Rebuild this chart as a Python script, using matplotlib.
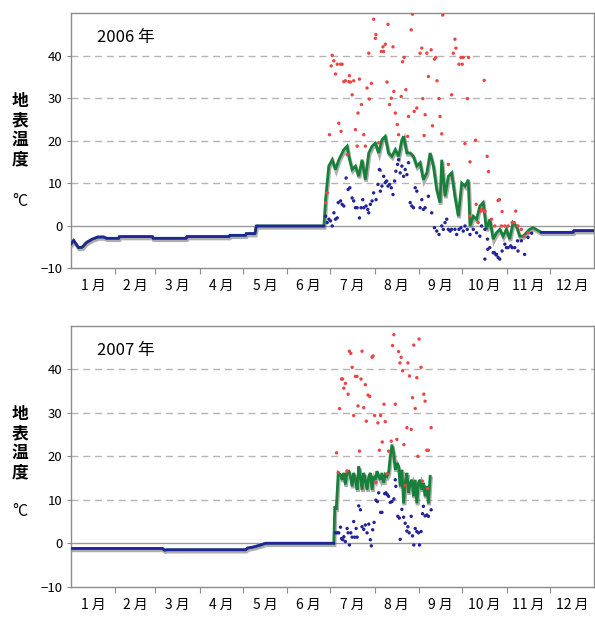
import numpy as np
import matplotlib
matplotlib.use("Agg")
from matplotlib import pyplot as plt
import matplotlib.patheffects as pe

plt.rcParams['font.family'] = ['Noto Sans CJK JP', 'DejaVu Sans']

# ---- data (day of year, degrees C) ----
month_edges = [31, 59, 90, 120, 151, 181, 212, 243, 273, 304, 334]
month_mid = [15.5, 45, 74.5, 105, 135.5, 166, 196.5, 227.5, 258, 288.5, 319, 349.5]
month_labels = ['1 月', '2 月', '3 月', '4 月', '5 月', '6 月',
                '7 月', '8 月', '9 月', '10 月', '11 月', '12 月']
ytick_vals = [-10, 0, 10, 20, 30, 40]
ytick_labels = ['−10', '0', '10', '20', '30', '40']

# 2006: flat (frozen) parts, where mean = min
winter06_day = [0, 2, 5.5, 8, 11, 15, 19, 23, 25, 33.5, 34, 57, 57.5, 80.5, 81, 110.5,
                111, 122, 122.5, 128.5, 129.5, 176.6]
winter06_val = [-4.4, -3.5, -5.2, -5.1, -4.0, -3.2, -2.7, -2.7, -3.0, -3.0, -2.6, -2.6,
                -3.0, -3.0, -2.6, -2.6, -2.3, -2.3, -1.9, -1.9, -0.1, -0.1]
late06_day = [328.2, 350.5, 351, 365]
late06_val = [-1.6, -1.6, -1.2, -1.2]

# 2006: daily mean in the thawed season
mean06_day = [177.8, 180, 182.4, 184.7, 187, 190.5, 192.8, 194, 196.3, 198.6, 200.9,
              203.2, 205.5, 207.9, 210.2, 212.5, 214.8, 217.1, 219.4, 221.7, 224,
              226.4, 228.7, 231, 232.2, 234.5, 236.8, 239.1, 241.4, 243.7, 246,
              248.4, 250.7, 253, 255.3, 257.6, 258.8, 261.1, 263.4, 265.7, 268,
              270.4, 272.7, 275, 277.3, 278.5, 280.8, 283.1, 285.4, 287.7, 290,
              292.3, 294.7, 297, 299.3, 301.6, 303.9, 306.2, 308.5, 310.9, 313.2,
              315.5, 317.8, 320.1, 322.4, 324.7]
mean06_val = [6.2, 14.0, 15.5, 13.2, 15.5, 17.9, 18.7, 16.3, 13.2, 14.0, 11.6,
              15.5, 10.8, 17.1, 18.7, 19.4, 17.1, 20.2, 21.0, 17.1, 16.3,
              17.9, 16.3, 20.2, 21.0, 17.1, 17.1, 16.3, 14.0, 14.8, 10.8,
              12.4, 17.1, 14.0, 8.5, 5.4, 15.5, 6.9, 11.6, 12.4, 6.9,
              2.2, 10.0, 9.3, 10.8, -0.1, 2.2, 1.5, 4.6, 5.4, -0.9,
              1.5, -3.2, -1.7, -0.9, -2.5, -0.9, -3.2, 0.7, -0.1, -2.5,
              -2.5, -1.7, -0.9, -0.5, -0.9]

# 2006: daily maximum
max06_day = [177.8, 178.9, 180.5, 181.7, 182.4, 183.5, 184.7, 185.9, 187, 188.2, 189.3,
             188.6, 190.5, 191.6, 192.8, 194, 194.4, 195.1, 196.3, 197.4, 198.6, 199.8,
             200.4, 201.4, 202.8, 204.4, 205.5, 206.7, 207.9, 208.3, 209.7, 211.3, 212.5,
             212.9, 214.8, 216, 216.7, 217.8, 218.3, 219.4, 220.6, 221.3, 222.4, 223.6,
             224.8, 225.4, 226.4, 227.8, 228.7, 230.5, 231.5, 232.6, 233.8, 235, 235.6,
             237.5, 238.4, 239.6, 241.4, 243.7, 244.9, 245.6, 246.5, 247.2, 248.4, 249.5,
             251.4, 252.3, 253.7, 254.6, 255.5, 256.9, 257.6, 258.8, 259.5, 263.4, 265.7,
             266.9, 268, 268.7, 270.8, 272.2, 273.8, 273.1, 276.8, 277.5, 275, 278.5,
             282.4, 288.4, 290.5, 291.4, 298.1, 299, 278.3, 284.2, 286.6, 288.9, 293.5,
             295.8, 300.4, 302.8, 305.1, 307.9, 310.4, 312, 314.3, 316.6, 319, 282.8,
             286.3, 288.6, 300.9, 309.4]
max06_val = [5.4, 7.7, 21.4, 37.6, 40.1, 38.8, 35.7, 38.0, 24.1, 38.0, 38.0,
             22.2, 33.9, 34.1, 16.7, 33.9, 35.3, 33.8, 30.8, 34.1, 22.6, 18.7,
             26.5, 34.5, 28.5, 21.4, 18.7, 32.4, 40.6, 29.8, 33.5, 48.6, 44.1,
             45.0, 19.5, 13.0, 41.0, 42.1, 41.0, 42.7, 33.8, 47.4, 28.5, 30.0,
             42.1, 31.6, 26.5, 23.8, 21.4, 30.4, 38.6, 39.6, 32.0, 21.0, 25.7,
             46.1, 49.8, 26.9, 27.7, 40.6, 41.8, 29.9, 21.2, 26.1, 40.6, 35.1,
             41.4, 23.5, 39.2, 39.6, 34.1, 29.9, 25.7, 21.6, 49.6, 14.4, 30.8,
             40.6, 43.9, 41.8, 38.0, 39.6, 39.6, 38.0, 29.9, 39.6, 19.3, 15.0,
             20.1, 34.2, 16.3, 12.7, 5.9, 6.1, 2.2, 0.7, 3.8, 3.4, 1.5,
             -0.1, -0.1, -0.1, -0.1, 0.7, 3.4, -0.1, -0.9, -2.5, -1.7, 5.0,
             3.4, 3.4, 3.3, 0.7]

# 2006: daily minimum
min06_day = [177.8, 178.9, 180.1, 181.2, 182.4, 183.6, 184.7, 185.9, 186.6, 188.2, 189.3,
             190.5, 192.1, 193.5, 194.7, 196.3, 197.4, 198.6, 199.8, 201.4, 202.5, 203.7,
             204.4, 206, 207.2, 207.9, 209, 210.2, 211.3, 213, 214.3, 215.3, 216, 217.1,
             218.3, 219.4, 220.4, 221.3, 222.4, 223.6, 224.8, 225.9, 226.8, 228, 228.7,
             229.8, 231, 232.2, 233.3, 234.5, 235.6, 236.8, 237.9, 239.1, 240.3, 241.4,
             243.7, 244.9, 246, 247.2, 249.5, 251.8, 253.7, 255.3, 256.9, 258.8, 259.9,
             261.1, 262.3, 263.4, 264.6, 265.7, 268, 269.2, 270.8, 272.2, 273.8, 275,
             276.6, 278.5, 280.8, 283.1, 285.4, 286.6, 288.9, 288.9, 290.7, 292.3, 294.7,
             297, 298.1, 299.3, 300.9, 302.8, 303.9, 305.1, 306.9, 307.9, 309.7, 312,
             314.3, 316.6, 319, 290.9, 295.5, 296.6, 311.7, 321.5]
min06_val = [2.2, 0.7, 1.5, 1.1, -0.1, 3.0, 1.5, 1.8, 5.4, 5.8, 5.0,
             4.6, 11.2, 8.5, 8.9, 6.5, 5.8, 4.2, 4.2, 1.8, 4.2, 6.1,
             4.2, 4.6, 3.8, 3.0, 5.0, 5.8, 7.7, 6.1, 9.7, 13.2, 8.1, 9.3,
             11.6, 10.1, 10.5, 9.3, 9.7, 8.9, 7.3, 10.5, 12.8, 14.4, 15.5,
             12.4, 14.0, 11.6, 13.2, 12.0, 14.8, 5.4, 4.6, 4.2, 8.9, 8.1,
             4.2, 6.1, 3.8, 4.2, 6.9, 3.0, -0.5, -1.3, -2.1, -0.1, -0.9,
             0.7, 1.5, -0.9, -1.3, -0.9, -0.9, -2.1, -0.9, -0.5, -1.3, -0.1,
             -0.9, -2.1, -0.9, -1.7, -2.5, -0.1, -0.9, -7.9, -3.2, -5.2, -6.4,
             -6.8, -7.5, -7.9, -6.0, -4.4, -5.2, -5.2, -4.8, -5.2, -5.2, -6.0,
             -3.6, -6.8, -2.8, -5.6, -6.4, -6.9, -3.6, -1.8]

# 2007: flat part before thaw
winter07_day = [0, 64, 65.5, 67, 122, 123.5, 127, 131.5, 136, 183.5]
winter07_val = [-1.2, -1.2, -1.6, -1.5, -1.5, -1.1, -0.9, -0.5, 0.0, 0.0]

# 2007: daily mean
mean07_day = [184.2, 185.2, 186.6, 188.2, 189.3, 190.5, 191.6, 192.8, 194, 195.1, 196.3,
              197.4, 198.6, 199.8, 200.9, 202.1, 203.2, 204.4, 205.5, 206.7, 207.9,
              209, 210.2, 211.3, 212.5, 213.6, 214.8, 216, 217.1, 218.3, 219.4,
              220.6, 221.7, 222.9, 224.1, 225.2, 226.4, 227.5, 228.7, 229.8, 231,
              232.2, 233.3, 234.5, 235.6, 236.8, 238, 239.1, 240.3, 241.4, 242.6,
              243.7, 244.9, 246, 247.2, 248.4, 249.5, 250.7]
mean07_val = [8.5, 7.7, 16.2, 15.8, 14.6, 16.2, 13.5, 16.6, 16.6, 15.4, 13.1,
              16.2, 14.6, 12.3, 17.7, 15.4, 12.3, 16.2, 14.6, 12.3, 15.4,
              16.2, 12.3, 15.4, 14.6, 16.6, 15.4, 14.6, 16.2, 13.9, 15.8,
              15.4, 16.2, 20.0, 22.7, 20.8, 16.9, 18.5, 17.7, 13.1, 16.9,
              9.2, 13.9, 16.2, 11.6, 13.9, 14.6, 10.8, 14.6, 9.2, 13.9,
              14.6, 12.3, 13.9, 10.8, 13.1, 9.2, 15.4]

# 2007: daily maximum
max07_day = [185.4, 186.6, 187.5, 188.9, 189.7, 190.5, 191.6, 193.5, 192.8, 194.4, 195.4,
             196.3, 197.4, 198.6, 199.7, 200.4, 201.4, 202.5, 203.2, 204.4, 205.5, 206.2,
             207.4, 208.5, 210.2, 210.9, 212, 212.9, 214.3, 215.3, 216.2, 217.3, 218.5,
             219.4, 220.6, 221.7, 223.6, 224.5, 225.4, 226.4, 227.5, 228.7, 229.6, 230.5,
             231.5, 232.4, 233.3, 234.5, 235.2, 236.3, 237.5, 238.4, 239.3, 240.3, 241.4,
             242.1, 243, 244.4, 245.4, 246.3, 247.2, 248.4, 249.5, 249, 251.4]
max07_val = [20.8, 16.3, 31.0, 37.8, 37.8, 35.7, 36.8, 34.3, 16.6, 44.2, 43.7,
             40.5, 29.4, 38.4, 38.4, 31.6, 21.2, 37.8, 44.2, 31.2, 36.5, 28.1,
             34.1, 33.8, 42.8, 43.1, 29.4, 14.0, 27.7, 21.4, 29.4, 23.3, 32.0,
             28.0, 16.0, 21.2, 23.5, 45.5, 48.0, 32.0, 23.9, 44.1, 41.5, 42.8,
             39.7, 22.7, 13.3, 26.6, 41.5, 38.5, 26.2, 33.5, 45.6, 31.0, 38.1,
             20.0, 47.0, 40.5, 14.3, 34.3, 32.7, 21.4, 21.4, 12.6, 26.6]

# 2007: daily minimum
min07_day = [184.7, 185.9, 187, 188.2, 188.9, 189.8, 190.5, 191.6, 192.8, 193.5, 194.4,
             195.4, 196.3, 197.4, 198.1, 199.1, 199.8, 200.9, 202.1, 203.2, 204.4, 205.5,
             206.7, 207.9, 209, 209.7, 210.6, 211.6, 212.9, 213.9, 214.8, 216.2, 217.1,
             219, 219.9, 220.8, 221.7, 222.9, 224.1, 225.4, 226.4, 226.8, 228.2, 229.2,
             229.8, 231, 232.2, 233.3, 234.5, 235.2, 236.1, 237.5, 238.4, 239.3, 240.3,
             241.4, 242.6, 243.3, 244.4, 245.4, 246, 247.2, 248.4, 249.5, 251.4]
min07_val = [2.4, 2.4, 2.4, 3.7, 1.1, 0.8, 1.5, 0.4, 3.4, 2.4, -0.4,
             2.4, 1.4, 5.0, 1.4, 3.4, 1.4, 8.6, 7.7, 3.8, 3.2, 4.2,
             2.4, 4.4, 0.8, -0.6, 3.1, 4.8, 9.9, 9.6, 11.6, 7.1, 7.1,
             11.4, 11.6, 11.2, 10.8, 9.4, 9.6, 10.2, 14.6, 13.1, 6.2, 5.8,
             0.9, 7.8, 6.0, 4.6, 2.8, 3.8, 2.4, 6.2, 1.7, -0.4, 3.4,
             2.7, 2.4, -0.4, 2.7, 6.8, 8.5, 6.3, 6.5, 6.2, 7.7]

RED = '#ee4444'
BLUE = '#23239a'
GREEN = '#17803a'
GRAY = '#8c8c8c'

fig = plt.figure(figsize=(5.95, 6.17), dpi=100)
W, H = 595.0, 617.0


def add_axes(left, top, right, bottom):
    return fig.add_axes([left / W, 1 - bottom / H, (right - left) / W, (bottom - top) / H])


def draw_panel(ax, year_text, flat_parts, mean_day, mean_val, max_day, max_val, min_day, min_val):
    ax.set_xlim(0, 365)
    ax.set_ylim(-10, 50)
    for v in [10, 20, 30, 40]:
        ax.axhline(v, color='#b4b4b4', lw=1, ls=(0, (5, 3.5)), zorder=1)
    ax.axhline(0, color='#999999', lw=1, zorder=1)

    # mean line = flat parts + thawed season
    d = np.concatenate([flat_parts[0][0], mean_day] + [p[0] for p in flat_parts[1:]])
    v = np.concatenate([flat_parts[0][1], mean_val] + [p[1] for p in flat_parts[1:]])
    ax.plot(d, v, color=GREEN, lw=2.0, zorder=2, solid_joinstyle='miter',
            path_effects=[pe.SimpleLineShadow(offset=(0.6, -1.4), shadow_color='#777777',
                                              alpha=0.6, linewidth=2.6), pe.Normal()])
    ax.scatter(max_day, max_val, s=6, color=RED, edgecolors='none', zorder=3)
    ax.scatter(min_day, min_val, s=6, color=BLUE, edgecolors='none', zorder=4)
    for pd_, pv_ in flat_parts:
        ax.plot(pd_, pv_, color=BLUE, lw=1.9, zorder=4, solid_joinstyle='round')

    for s in ax.spines.values():
        s.set_color(GRAY)
        s.set_linewidth(1)
    ax.set_yticks(ytick_vals)
    ax.set_yticklabels(ytick_labels)
    ax.set_xticks(month_edges)
    ax.set_xticklabels([])
    ax.set_xticks(month_mid, minor=True)
    ax.set_xticklabels(month_labels, minor=True, fontsize=10)
    ax.tick_params(axis='x', which='major', length=4, color=GRAY)
    ax.tick_params(axis='x', which='minor', length=0, pad=8)
    ax.tick_params(axis='y', length=3, color=GRAY, labelsize=9.5, pad=3)
    ax.text(0.05, 0.905, year_text, transform=ax.transAxes, fontsize=12,
            ha='left', va='center')


ax1 = add_axes(70.7, 13.3, 594, 268)
draw_panel(ax1, '2006 年',
           [(winter06_day, winter06_val), (late06_day, late06_val)],
           mean06_day, mean06_val, max06_day, max06_val, min06_day, min06_val)

ax2 = add_axes(70.7, 326, 594, 586.7)
draw_panel(ax2, '2007 年',
           [(winter07_day, winter07_val)],
           mean07_day, mean07_val, max07_day, max07_val, min07_day, min07_val)

for yc, yd in [(130, 202), (443, 511)]:
    fig.text(20 / W, 1 - yc / H, '地\n表\n温\n度', ha='center', va='center',
             fontsize=12, fontweight='bold', linespacing=1.1)
    fig.text(20 / W, 1 - yd / H, '°C', ha='center', va='center', fontsize=11.5)

fig.savefig('out.png', dpi=100)
